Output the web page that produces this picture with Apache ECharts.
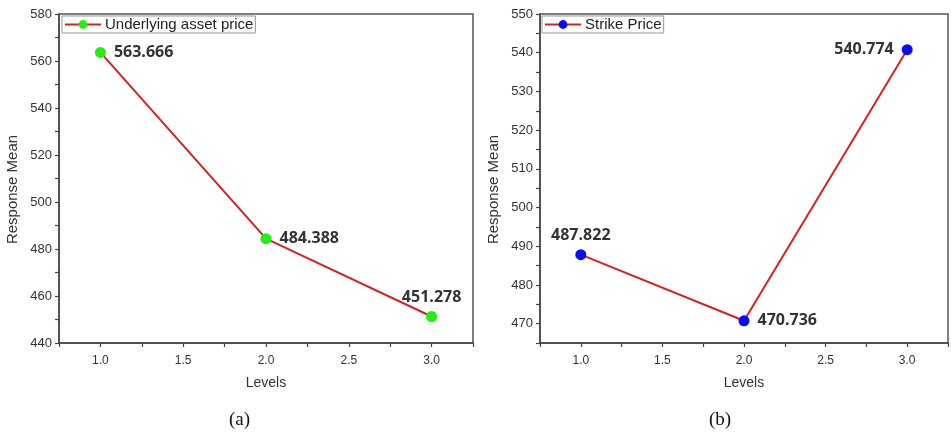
<!DOCTYPE html>
<html><head><meta charset="utf-8">
<script src="https://cdn.jsdelivr.net/npm/echarts@6/dist/echarts.min.js"></script>
<style>html,body{margin:0;padding:0;background:#fff}#c{width:951px;height:435px}</style>
</head><body><div id="c"></div>
<script>
const levels = [1.0, 2.0, 3.0];
const underlyingValues = [563.666, 484.388, 451.278];
const strikeValues = [487.822, 470.736, 540.774];
const underlyingLabelPos = ['right', 'right', 'top'];
const strikeLabelPos = ['top', 'right', 'left'];
const xTickLabels = [1.0, 1.5, 2.0, 2.5, 3.0];
const yTicksA = [440, 460, 480, 500, 520, 540, 560, 580];
const yTicksB = [470, 480, 490, 500, 510, 520, 530, 540, 550];

const chart = echarts.init(document.getElementById('c'));
const axisColor = '#444';
const sans = 'Liberation Sans, Arial, sans-serif';

function mkX(gi) {
  return {
    type: 'value', gridIndex: gi, min: 0.75, max: 3.25, interval: 0.25,
    name: 'Levels', nameLocation: 'middle', nameGap: 33,
    nameTextStyle: {color: '#333', fontFamily: sans, fontSize: 14},
    axisLine: {show: true, onZero: false, lineStyle: {color: axisColor, width: 1.5}},
    axisTick: {show: true, inside: false, length: 4, lineStyle: {color: axisColor, width: 1.2}},
    axisLabel: {color: '#333', fontFamily: sans, fontSize: 12, margin: 12,
      formatter: v => xTickLabels.some(t => Math.abs(t - v) < 1e-6) ? v.toFixed(1) : ''},
    splitLine: {show: false}
  };
}
function mkY(gi, min, max, interval, labels) {
  return {
    type: 'value', gridIndex: gi, min: min, max: max, interval: interval,
    name: 'Response Mean', nameLocation: 'middle', nameGap: 39,
    nameTextStyle: {color: '#333', fontFamily: sans, fontSize: 15, padding: [0, 22, 0, 0]},
    axisLine: {show: true, onZero: false, lineStyle: {color: axisColor, width: 1.5}},
    axisTick: {show: true, inside: false, length: 4, lineStyle: {color: axisColor, width: 1.2}},
    axisLabel: {color: '#333', fontFamily: sans, fontSize: 13, margin: 7,
      formatter: v => labels.some(t => Math.abs(t - v) < 1e-6) ? String(v) : ''},
    splitLine: {show: false}
  };
}
function mkSeries(name, data, posArr, color, xi) {
  return {
    type: 'line', name: name, xAxisIndex: xi, yAxisIndex: xi,
    data: levels.map((x, i) => ({value: [x, data[i]],
      label: {show: true, position: posArr[i], distance: posArr[i] === 'top' ? 6 : 8,
        formatter: () => data[i].toFixed(3)}})),
    symbol: 'circle', symbolSize: 11,
    lineStyle: {color: '#d42222', width: 2},
    itemStyle: {color: color},
    label: {fontFamily: 'Open Sans, Noto Sans, sans-serif', fontWeight: 'bold', fontSize: 16, color: '#333'},
    emphasis: {disabled: true}, z: 3
  };
}
const legendBase = {
  orient: 'horizontal', top: 16, itemWidth: 36, itemHeight: 11, padding: [1, 2, 1, 2],
  borderColor: '#999', borderWidth: 1, backgroundColor: '#fff',
  textStyle: {color: '#222', fontFamily: sans, fontSize: 15, padding: [1, 0, 0, -1]}
};
chart.setOption({
  backgroundColor: '#fff',
  animation: false,
  grid: [
    {left: 59, top: 14, width: 414, height: 329, show: true, borderColor: '#555', borderWidth: 1.5, backgroundColor: 'transparent'},
    {left: 540, top: 14, width: 410, height: 329, show: true, borderColor: '#555', borderWidth: 1.5, backgroundColor: 'transparent'}
  ],
  xAxis: [mkX(0), mkX(1)],
  yAxis: [mkY(0, 440, 580, 10, yTicksA), mkY(1, 465, 550, 5, yTicksB)],
  legend: [
    Object.assign({}, legendBase, {left: 62, data: ['Underlying asset price']}),
    Object.assign({}, legendBase, {left: 542, data: ['Strike Price']})
  ],
  series: [
    mkSeries('Underlying asset price', underlyingValues, underlyingLabelPos, '#22ee11', 0),
    mkSeries('Strike Price', strikeValues, strikeLabelPos, '#0a0aff', 1)
  ],
  graphic: [
    {type: 'text', left: 229, top: 411, style: {text: '(a)', font: '19px "Liberation Serif", serif', fill: '#111'}},
    {type: 'text', left: 709, top: 411, style: {text: '(b)', font: '19px "Liberation Serif", serif', fill: '#111'}}
  ]
});
</script></body></html>
